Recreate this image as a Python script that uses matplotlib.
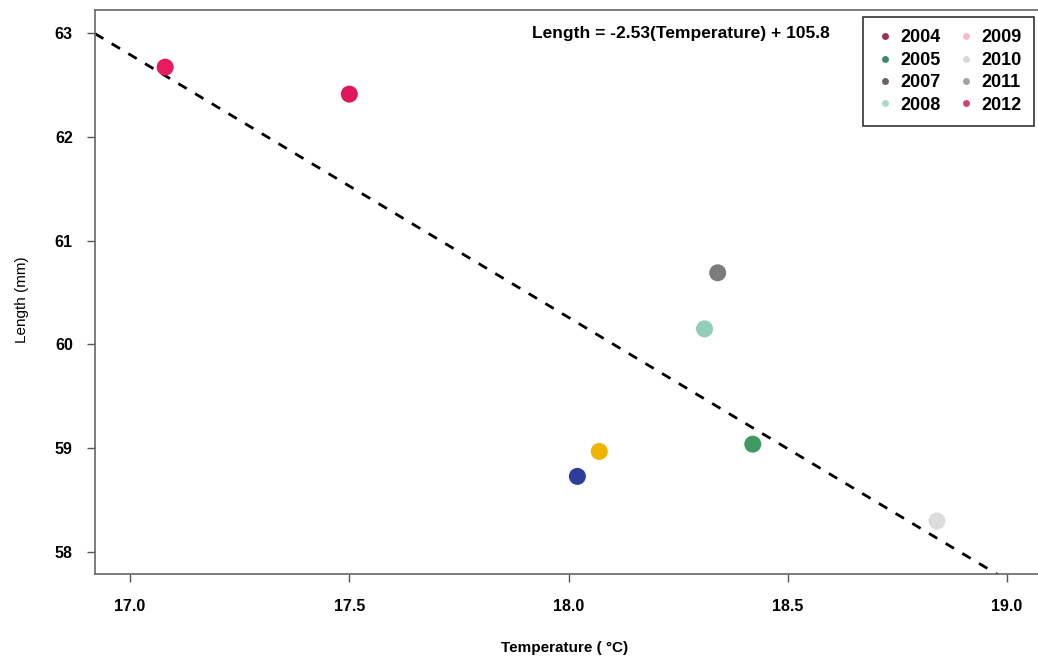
import matplotlib.pyplot as plt
from matplotlib.lines import Line2D

# ----------------------------------------------------
# Data
# ----------------------------------------------------
temperature = [17.08, 17.50, 18.34, 18.31, 18.42, 18.07, 18.02, 18.84]
length = [62.67, 62.41, 60.69, 60.15, 59.04, 58.97, 58.73, 58.30]
point_colors = ['#e81c5c', '#e0185a', '#7c7c7c', '#92cdb8',
                '#3f9a62', '#eeb400', '#2b3e9c', '#dcdcdc']

legend_years = ['2004', '2005', '2007', '2008', '2009', '2010', '2011', '2012']
legend_colors = ['#9c2f50', '#3f8a6c', '#6e6262', '#a9d9c9',
                 '#f0bccb', '#d9d9d9', '#a2a2a2', '#d0436f']

slope = -2.53
intercept = 105.8

x_ticks = [17.0, 17.5, 18.0, 18.5, 19.0]
y_ticks = [58, 59, 60, 61, 62, 63]

plt.rcParams['font.family'] = ['Liberation Sans', 'DejaVu Sans']

fig = plt.figure(figsize=(10.38, 6.62), dpi=100)
ax = fig.add_axes([95 / 1038, 1 - 574 / 662, 945 / 1038, 564 / 662])

ax.set_xlim(16.92, 19.075)
ax.set_ylim(57.79, 63.22)

# regression line
xs = [16.92, 19.075]
ax.plot(xs, [slope * x + intercept for x in xs], linestyle=(0, (3.5, 3.5)),
        color='black', linewidth=2.0, zorder=2)

ax.scatter(temperature, length, s=150, c=point_colors, edgecolors='none', zorder=3)

ax.text(0.62, 0.958, f'Length = {slope}(Temperature) + {intercept}',
        transform=ax.transAxes, ha='center', va='center',
        fontsize=12.5, fontweight='bold')

handles = [Line2D([], [], marker='o', linestyle='none', markersize=5,
                  markerfacecolor=c, markeredgecolor='none') for c in legend_colors]
leg = ax.legend(handles, legend_years, ncol=2, loc='upper right',
                bbox_to_anchor=(0.9936, 0.988), borderaxespad=0,
                frameon=True, fancybox=False,
                handletextpad=0.35, columnspacing=0.9, borderpad=0.7,
                labelspacing=0.3, handlelength=1.0,
                prop={'weight': 'bold', 'size': 13})
leg.get_frame().set_edgecolor('black')
leg.get_frame().set_linewidth(1.2)

ax.set_xticks(x_ticks)
ax.set_xticklabels([f'{t:.1f}' for t in x_ticks])
ax.set_yticks(y_ticks)
ax.tick_params(direction='out', length=6, width=1, color='#555555',
               labelsize=11.5)
ax.tick_params(axis='x', pad=12)
ax.tick_params(axis='y', pad=10)
for lab in ax.get_xticklabels() + ax.get_yticklabels():
    lab.set_fontweight('bold')

for s in ax.spines.values():
    s.set_color('#666666')
    s.set_linewidth(1.2)

fig.text(565 / 1038, 1 - 648 / 662, 'Temperature ( \u00b0C)', ha='center',
         va='center', fontsize=11, fontweight='bold')
fig.text(22 / 1038, 1 - 300 / 662, 'Length (mm)', ha='center', va='center',
         rotation=90, fontsize=11)

fig.savefig('out.png', dpi=100)
